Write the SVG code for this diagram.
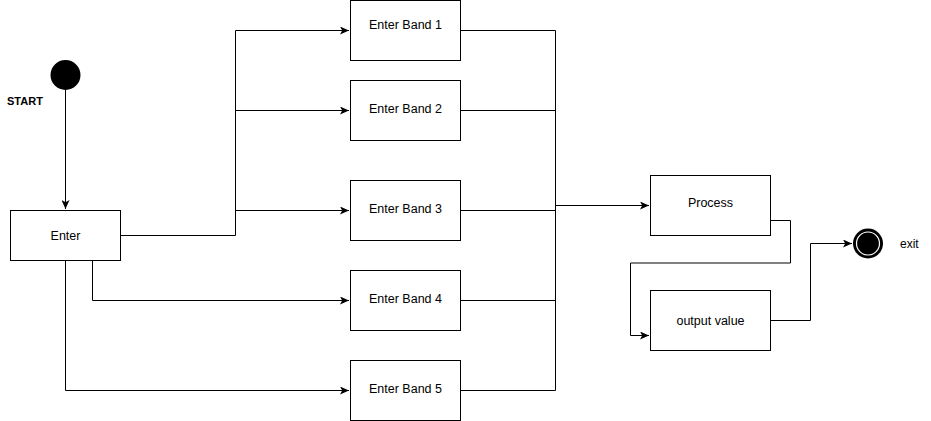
<svg xmlns="http://www.w3.org/2000/svg" width="931" height="421" viewBox="0 0 931 421">
<style>
.box{fill:#fff;stroke:#000;stroke-width:1}
.lbl{font-family:"Liberation Sans",Arial,sans-serif;font-size:12.5px;fill:#000;text-anchor:middle}
.bold{font-family:"Liberation Sans",Arial,sans-serif;font-size:11px;font-weight:bold;fill:#000}
.reg{font-family:"Liberation Sans",Arial,sans-serif;font-size:12px;fill:#000}
.c{fill:none;stroke:#000;stroke-width:1}
.ca{fill:none;stroke:#000;stroke-width:1;marker-end:url(#arr)}
</style>
<defs>
<marker id="arr" markerWidth="10" markerHeight="8" refX="9" refY="4" orient="auto" markerUnits="userSpaceOnUse">
<path d="M0,0 L9,4 L0,8 L2.2,4 Z" fill="#000"/>
</marker>
</defs>
<rect width="931" height="421" fill="#fff"/>
<g id="connectors">
<path class="ca" d="M65.5,90 V209"/>
<path class="c" d="M120,235.5 H235.5 V30.5"/>
<path class="ca" d="M235.5,30.5 H349"/>
<path class="ca" d="M235.5,110.5 H349"/>
<path class="ca" d="M235.5,210.5 H349"/>
<path class="ca" d="M92.5,260 V300.5 H349"/>
<path class="ca" d="M65.5,260 V390.5 H349"/>
<path class="c" d="M460,30.5 H555.5 V390.5 H460"/>
<path class="c" d="M460,110.5 H555.5"/>
<path class="c" d="M460,210.5 H555.5"/>
<path class="c" d="M460,300.5 H555.5"/>
<path class="ca" d="M555.5,205.5 H649"/>
<path class="ca" d="M770,220.5 H790.5 V263 H630.5 V335.5 H649"/>
<path class="ca" d="M770,320.5 H810.5 V243.5 H852"/>
</g>
<g id="start">
<circle cx="65.5" cy="75" r="15" fill="#000"/>
<text class="bold" x="7" y="105">START</text>
</g>
<g id="enter">
<rect class="box" x="10.5" y="210.5" width="110" height="50"/>
<text class="lbl" x="65.5" y="240">Enter</text>
</g>
<g id="band1">
<rect class="box" x="350.5" y="0.5" width="110" height="60"/>
<text class="lbl" x="405.5" y="29">Enter Band 1</text>
</g>
<g id="band2">
<rect class="box" x="350.5" y="80.5" width="110" height="60"/>
<text class="lbl" x="405.5" y="113">Enter Band 2</text>
</g>
<g id="band3">
<rect class="box" x="350.5" y="180.5" width="110" height="60"/>
<text class="lbl" x="405.5" y="213">Enter Band 3</text>
</g>
<g id="band4">
<rect class="box" x="350.5" y="270.5" width="110" height="60"/>
<text class="lbl" x="405.5" y="303">Enter Band 4</text>
</g>
<g id="band5">
<rect class="box" x="350.5" y="360.5" width="110" height="60"/>
<text class="lbl" x="405.5" y="393">Enter Band 5</text>
</g>
<g id="process">
<rect class="box" x="650.5" y="175.5" width="120" height="60"/>
<text class="lbl" x="710.5" y="207">Process</text>
</g>
<g id="output">
<rect class="box" x="650.5" y="290.5" width="120" height="60"/>
<text class="lbl" x="710.5" y="325">output value</text>
</g>
<g id="end">
<circle cx="868" cy="243.5" r="15" fill="#000"/>
<circle cx="868" cy="243.5" r="11.5" fill="#000" stroke="#fff" stroke-width="1.2"/>
<text class="reg" x="900" y="248">exit</text>
</g>
</svg>
